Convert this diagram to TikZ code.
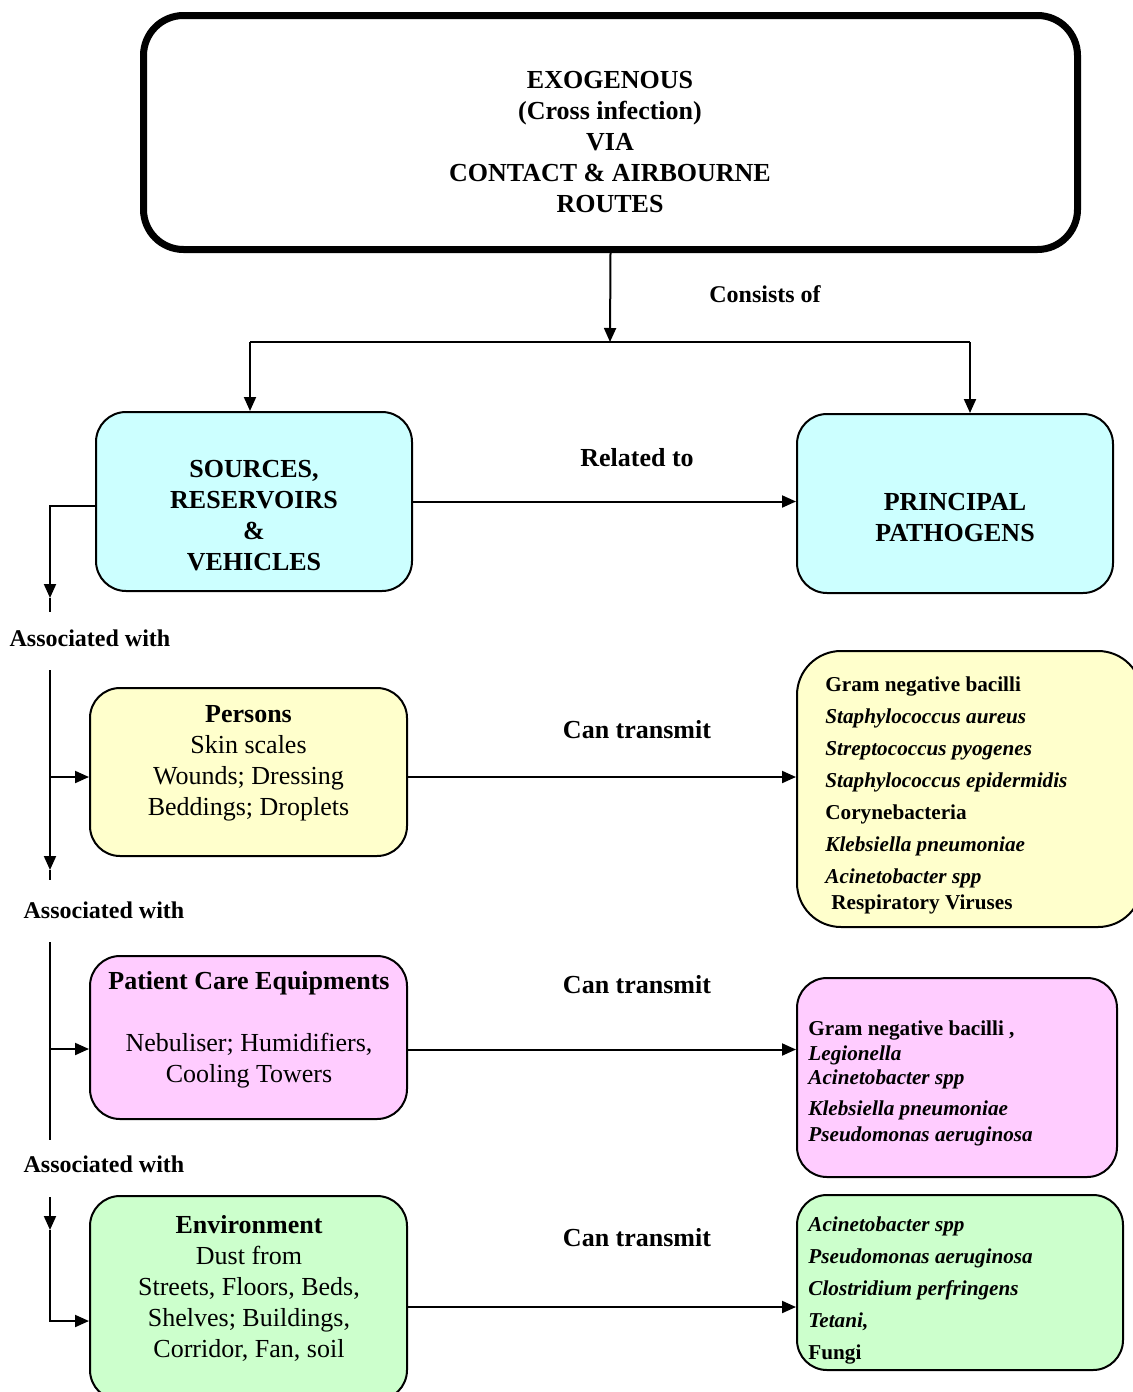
\documentclass[tikz,border=0pt]{standalone}
\usepackage{fontspec}
\setmainfont{Liberation Serif}
\usetikzlibrary{arrows.meta,positioning}
\definecolor{srccyan}{HTML}{CCFFFF}
\definecolor{perscream}{HTML}{FFFFCC}
\definecolor{equippink}{HTML}{FFCCFF}
\definecolor{envgreen}{HTML}{CCFFCC}
\tikzset{
    flow-box/.style = {draw, line width=1pt, rounded corners=15pt, minimum width=158pt},
    box-text/.style = {align=center, inner sep=0pt, font=\fontsize{13}{15.5}\selectfont},
    list-text/.style = {align=left, anchor=west, inner sep=0pt},
    link-label/.style = {font=\bfseries\fontsize{13}{15.5}\selectfont},
    side-label/.style = {font=\bfseries\fontsize{12}{14}\selectfont},
    arr/.style = {-{Triangle[length=7pt,width=6pt]}, line width=1pt},
    plain/.style = {line width=1pt},
}

\begin{document}
\begin{tikzpicture}[x=0.5pt,y=-0.5pt]
\useasboundingbox (0,0) rectangle (1133,1392);

% main box
\node[draw, line width=3.5pt, rounded corners=20pt, minimum width=467pt, minimum height=117pt] (exo) at (610.5,132.5) {};
\node[box-text, font=\bfseries\fontsize{13}{15.5}\selectfont] (exotext) at (610,142) {EXOGENOUS\\(Cross infection)\\VIA\\CONTACT \& AIRBOURNE\\ROUTES};

% second row
\node[flow-box, fill=srccyan, minimum height=89.5pt] (sources) at (254,501.5) {};
\node[box-text, font=\bfseries\fontsize{13}{15.5}\selectfont] (sourcestext) at (254,516) {SOURCES,\\RESERVOIRS\\\&\\VEHICLES};
\node[flow-box, fill=srccyan, minimum height=89.5pt] (principal) at (955,503.5) {};
\node[box-text, font=\bfseries\fontsize{13}{15.5}\selectfont] (principaltext) at (955,518) {PRINCIPAL\\PATHOGENS};

% sources (left column)
\node[flow-box, fill=perscream, minimum width=158.5pt, minimum height=84pt] (persons) at (248.5,772) {};
\node[box-text] (personstext) at (248.5,763) {\textbf{Persons}\\Skin scales\\Wounds; Dressing\\Beddings; Droplets};
\node[flow-box, fill=equippink, minimum width=158.5pt, minimum height=81.5pt] (equip) at (248.5,1037.5) {};
\node[box-text] (equiptext) at (249,1030) {\textbf{Patient Care Equipments}\\[15.5pt]Nebuliser; Humidifiers,\\Cooling Towers};
\node[flow-box, fill=envgreen, minimum width=158.5pt, minimum height=102pt] (env) at (248.5,1298) {};
\node[box-text] (envtext) at (249,1288) {\textbf{Environment}\\Dust from\\Streets, Floors, Beds,\\Shelves; Buildings,\\Corridor, Fan, soil};

% pathogens (right column)
\node[flow-box, fill=perscream, rounded corners=22pt, minimum width=172.5pt, minimum height=138pt] (path1) at (969.5,789) {};
\node[list-text, font=\bfseries\fontsize{10.6}{16}\selectfont] (path1text) at (825,795) {Gram negative bacilli\\\textit{Staphylococcus aureus}\\\textit{Streptococcus pyogenes}\\\textit{Staphylococcus epidermidis}\\Corynebacteria\\\textit{Klebsiella pneumoniae}\\\textit{Acinetobacter spp}\\[-3pt]\hspace{3pt}Respiratory Viruses};
\node[flow-box, fill=equippink, minimum width=160pt, minimum height=99.5pt] (path2) at (957,1077.5) {};
\node[list-text, font=\bfseries\fontsize{10.6}{12.5}\selectfont] (path2text) at (808,1083) {Gram negative bacilli ,\\\textit{Legionella}\\[-0.5pt]\textit{Acinetobacter spp}\\[3pt]\textit{Klebsiella pneumoniae}\\[0.5pt]\textit{Pseudomonas aeruginosa}};
\node[flow-box, fill=envgreen, minimum width=163pt, minimum height=87.5pt] (path3) at (960,1282.5) {};
\node[list-text, font=\bfseries\fontsize{10.6}{16}\selectfont] (path3text) at (808,1290) {\textit{Acinetobacter spp}\\\textit{Pseudomonas aeruginosa}\\\textit{Clostridium perfringens}\\\textit{Tetani,}\\Fungi};

% labels
\node[side-label] (consists) at (765,294) {Consists of};
\node[link-label] (related) at (637,458) {Related to};
\node[link-label] (trans1) at (637,730) {Can transmit};
\node[link-label] (trans2) at (637,985) {Can transmit};
\node[link-label] (trans3) at (637,1238) {Can transmit};
\node[side-label] (assoc1) at (90,638) {Associated with};
\node[side-label] (assoc2) at (104,910) {Associated with};
\node[side-label] (assoc3) at (104,1164) {Associated with};

% split below main box
\coordinate (split) at (610,342);
\coordinate (splitl) at (250,342);
\coordinate (splitr) at (970,342);
\draw[arr] (exo.south) -- (split);
\draw[plain] (splitl) -- (splitr);
\draw[arr] (splitl) -- (splitl |- sources.north);
\draw[arr] (splitr) -- (splitr |- principal.north);

% across
\draw[arr] (sources.east) -- (sources.east -| principal.west);
\draw[arr] ([yshift=-2.5pt]persons.east) -- ([yshift=-2.5pt]persons.east -| path1.west);
\draw[arr] ([yshift=-6pt]equip.east) -- ([yshift=-6pt]equip.east -| path2.west);
\draw[arr] ([yshift=-4.5pt]env.east) -- ([yshift=-4.5pt]env.east -| path3.west);

% left spine
\coordinate (tip1) at (50,598);
\coordinate (end1) at (50,612);
\coordinate (top2) at (50,670);
\coordinate (tip2) at (50,870);
\coordinate (end2) at (50,880);
\coordinate (top3) at (50,942);
\coordinate (end3) at (50,1140);
\coordinate (top4) at (50,1197);
\coordinate (tip4) at (50,1230);
\coordinate (br1) at (50,777);
\coordinate (br2) at (50,1049);
\coordinate (br3) at (50,1321);
\draw[arr] ([yshift=-2pt]sources.west) -| (tip1);
\draw[plain] (tip1) -- (end1);
\draw[arr] (top2) -- (tip2);
\draw[plain] (tip2) -- (end2);
\draw[arr] (br1) -- (br1 -| persons.west);
\draw[plain] (top3) -- (end3);
\draw[arr] (br2) -- (br2 -| equip.west);
\draw[arr] (top4) -- (tip4);
\draw[arr] (tip4) |- (br3 -| env.west);
\end{tikzpicture}
\end{document}
